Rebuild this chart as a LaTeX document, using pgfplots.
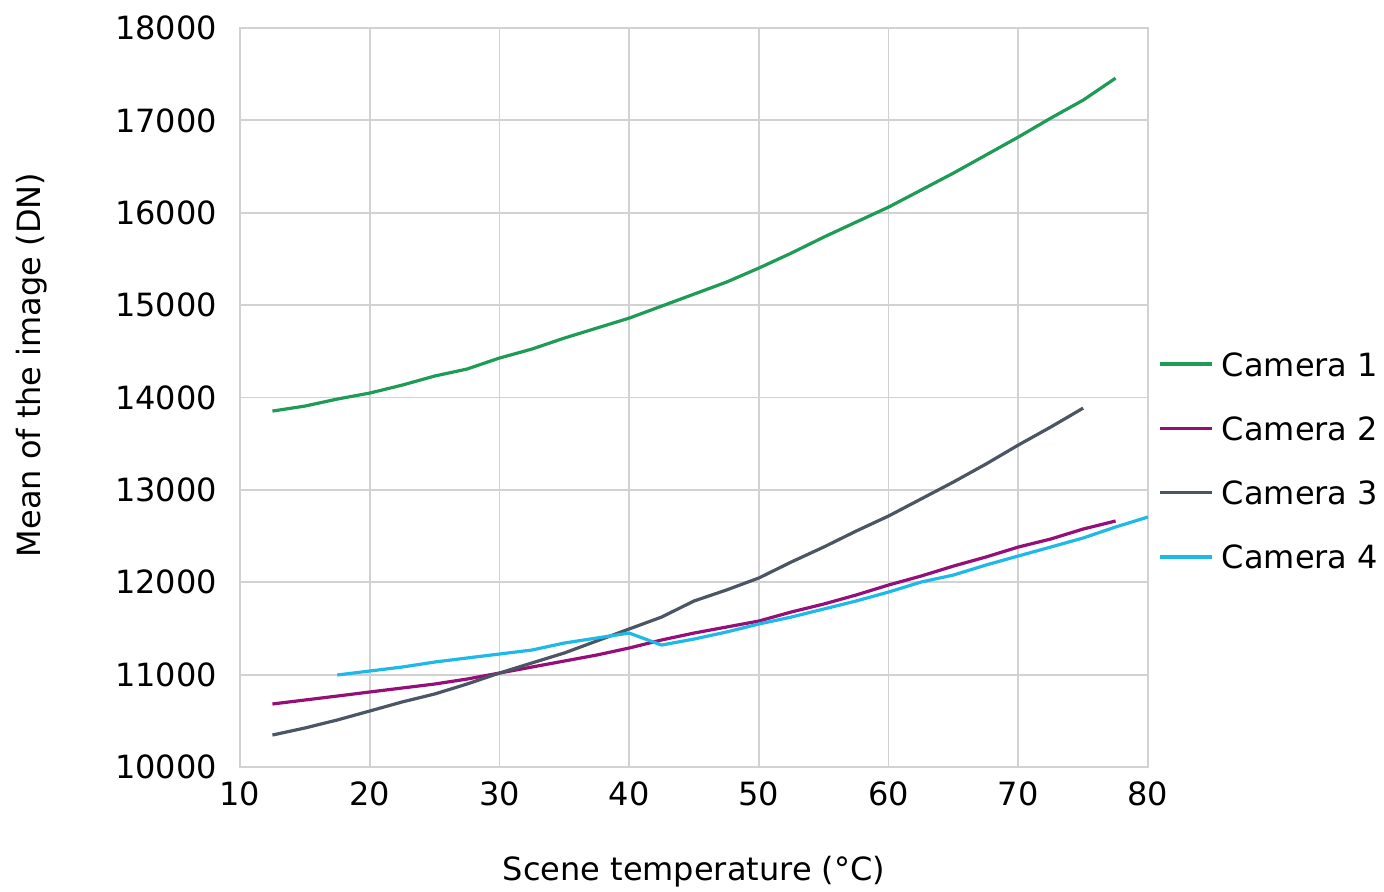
\documentclass[border=0pt]{standalone}
\usepackage{pgfplots}
\pgfplotsset{compat=1.18}
\usepackage{fontspec}
\setmainfont{DejaVu Sans}
\definecolor{cgreen}{RGB}{30,155,85}
\definecolor{cpurple}{RGB}{150,15,120}
\definecolor{cslate}{RGB}{75,85,100}
\definecolor{ccyan}{RGB}{30,185,230}
\definecolor{cgrid}{RGB}{210,210,210}
\begin{document}
\begin{tikzpicture}
\useasboundingbox (-120pt,-62.5pt) rectangle (572pt,383.5pt);
\begin{axis}[
  at={(0,0)}, anchor=south west,
  scale only axis, width=454pt, height=369.5pt,
  xmin=10, xmax=80, ymin=10000, ymax=18000,
  xtick={10,20,...,80}, ytick={10000,11000,...,18000},
  scaled y ticks=false, scaled x ticks=false,
  /pgf/number format/1000 sep={},
  /pgf/number format/assume math mode=true,
  major tick length=0pt,
  grid=major,
  grid style={cgrid, line width=0.9pt},
  axis line style={cgrid, line width=0.9pt},
  tick label style={font=\fontsize{16}{19}\selectfont, text=black},
  yticklabel style={xshift=-8pt},
  xticklabel style={yshift=-4pt},
  label style={font=\fontsize{16}{19}\selectfont},
  xlabel={Scene temperature (°C)},
  ylabel={Mean of the image (DN)},
  xlabel style={at={(axis description cs:0.5,-0.142)}, anchor=center},
  ylabel style={at={(axis description cs:-0.229,0.544)}, anchor=center, rotate=0},
  legend style={draw=none, fill=none, at={(axis description cs:1.011,0.4147)}, anchor=west,
    inner sep=0pt, row sep=17.3pt, font=\fontsize{16}{19}\selectfont,
    nodes={inner sep=0pt}},
  legend cell align=left,
  legend image code/.code={\draw[#1, line width=1.8pt] (0pt,0pt) -- (26pt,0pt);},
  every axis plot/.append style={line width=1.6pt, no markers, line join=round},
  clip=true,
]
\addplot[cgreen] coordinates {
(12.5,13853) (15,13907) (17.5,13983) (20,14048) (22.5,14134) (25,14232) (27.5,14308)
(30,14427) (32.5,14524) (35,14643) (37.5,14751) (40,14859) (42.5,14989) (45,15119)
(47.5,15249) (50,15401) (52.5,15563) (55,15736) (57.5,15899) (60,16061) (62.5,16245)
(65,16429) (67.5,16624) (70,16819) (72.5,17024) (75,17219) (77.5,17457)};
\addlegendentry{\strut\hspace{4pt}Camera 1}
\addplot[cpurple] coordinates {
(12.5,10682) (15,10725) (17.5,10768) (20,10812) (22.5,10855) (25,10898) (27.5,10952)
(30,11017) (32.5,11082) (35,11147) (37.5,11212) (40,11288) (42.5,11375) (45,11450)
(47.5,11515) (50,11580) (52.5,11678) (55,11764) (57.5,11862) (60,11970) (62.5,12067)
(65,12175) (67.5,12273) (70,12381) (72.5,12468) (75,12576) (77.5,12663)};
\addlegendentry{\strut\hspace{4pt}Camera 2}
\addplot[cslate] coordinates {
(12.5,10346) (15,10422) (17.5,10509) (20,10606) (22.5,10704) (25,10790) (27.5,10898)
(30,11017) (32.5,11126) (35,11234) (37.5,11364) (40,11494) (42.5,11623) (45,11797)
(47.5,11916) (50,12046) (52.5,12219) (55,12381) (57.5,12554) (60,12717) (62.5,12901)
(65,13085) (67.5,13279) (70,13485) (72.5,13680) (75,13885)};
\addlegendentry{\strut\hspace{4pt}Camera 3}
\addplot[ccyan] coordinates {
(17.5,10996) (20,11039) (22.5,11082) (25,11136) (27.5,11180) (30,11223) (32.5,11266)
(35,11342) (37.5,11396) (40,11450) (42.5,11320) (45,11385) (47.5,11461) (50,11548)
(52.5,11623) (55,11710) (57.5,11797) (60,11894) (62.5,12002) (65,12078) (67.5,12186)
(70,12284) (72.5,12381) (75,12479) (77.5,12598) (80,12706)};
\addlegendentry{\strut\hspace{4pt}Camera 4}
\end{axis}
\end{tikzpicture}
\end{document}
